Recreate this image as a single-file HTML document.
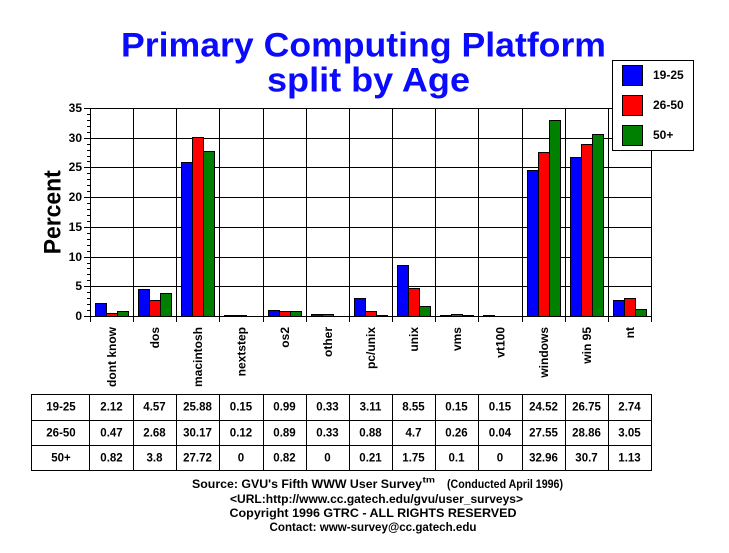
<!DOCTYPE html>
<html>
<head>
<meta charset="utf-8">
<style>
html,body{margin:0;padding:0;background:#fff;}
svg{display:block;}
text{font-family:"Liberation Sans",Arial,sans-serif;font-weight:bold;fill:#000;}
.b{fill:#0000ff;stroke:#000;stroke-width:1;}
.r{fill:#ff0000;stroke:#000;stroke-width:1;}
.g{fill:#008000;stroke:#000;stroke-width:1;}
.ln{stroke:#000;stroke-width:1;fill:none;}
.tk{font-size:12px;text-anchor:end;}
.xl{font-size:12px;text-anchor:end;}
.tc{font-size:11.5px;text-anchor:middle;}
.ft{font-size:11.5px;}
</style>
</head>
<body>
<svg width="729" height="553" viewBox="0 0 729 553" xmlns="http://www.w3.org/2000/svg">
<rect x="0" y="0" width="729" height="553" fill="#fff"/>

<!-- Title -->
<text x="121" y="56.7" font-size="34" textLength="485" lengthAdjust="spacingAndGlyphs" style="fill:#0a0aff">Primary Computing Platform</text>
<text x="267" y="91.5" font-size="34" textLength="203" lengthAdjust="spacingAndGlyphs" style="fill:#0a0aff">split by Age</text>

<!-- Y axis title -->
<text transform="translate(60.7,212.3) rotate(-90)" font-size="24" text-anchor="middle" textLength="84" lengthAdjust="spacingAndGlyphs">Percent</text>

<!-- gridlines -->
<g class="ln" shape-rendering="crispEdges">
<path d="M90 108.5H651M90 138.5H651M90 167.5H651M90 197.5H651M90 227.5H651M90 257.5H651M90 286.5H651"/>
<path d="M133.5 108V322M176.5 108V322M219.5 108V322M263.5 108V322M306.5 108V322M349.5 108V322M392.5 108V322M435.5 108V322M478.5 108V322M522.5 108V322M565.5 108V322M608.5 108V322M651.5 108V322"/>
</g>

<!-- bars -->
<g shape-rendering="crispEdges">
<rect class="b" x="95.5" y="303.5" width="11" height="13"/>
<rect class="r" x="106.5" y="313.5" width="11" height="3"/>
<rect class="g" x="117.5" y="311.5" width="11" height="5"/>

<rect class="b" x="138.5" y="289.5" width="11" height="27"/>
<rect class="r" x="149.5" y="300.5" width="11" height="16"/>
<rect class="g" x="160.5" y="293.5" width="11" height="23"/>

<rect class="b" x="181.5" y="162.5" width="11" height="154"/>
<rect class="r" x="192.5" y="137.5" width="11" height="179"/>
<rect class="g" x="203.5" y="151.5" width="11" height="165"/>

<rect class="b" x="224.5" y="315.5" width="11" height="1"/>
<rect class="r" x="235.5" y="315.5" width="11" height="1"/>

<rect class="b" x="268.5" y="310.5" width="11" height="6"/>
<rect class="r" x="279.5" y="311.5" width="11" height="5"/>
<rect class="g" x="290.5" y="311.5" width="11" height="5"/>

<rect class="b" x="311.5" y="314.5" width="11" height="2"/>
<rect class="r" x="322.5" y="314.5" width="11" height="2"/>

<rect class="b" x="354.5" y="298.5" width="11" height="18"/>
<rect class="r" x="365.5" y="311.5" width="11" height="5"/>
<rect class="g" x="376.5" y="315.5" width="11" height="1"/>

<rect class="b" x="397.5" y="265.5" width="11" height="51"/>
<rect class="r" x="408.5" y="288.5" width="11" height="28"/>
<rect class="g" x="419.5" y="306.5" width="11" height="10"/>

<rect class="b" x="440.5" y="315.5" width="11" height="1"/>
<rect class="r" x="451.5" y="314.5" width="11" height="2"/>
<rect class="g" x="462.5" y="315.5" width="11" height="1"/>

<rect class="b" x="483.5" y="315.5" width="11" height="1"/>

<rect class="b" x="527.5" y="170.5" width="11" height="146"/>
<rect class="r" x="538.5" y="152.5" width="11" height="164"/>
<rect class="g" x="549.5" y="120.5" width="11" height="196"/>

<rect class="b" x="570.5" y="157.5" width="11" height="159"/>
<rect class="r" x="581.5" y="144.5" width="11" height="172"/>
<rect class="g" x="592.5" y="134.5" width="11" height="182"/>

<rect class="b" x="613.5" y="300.5" width="11" height="16"/>
<rect class="r" x="624.5" y="298.5" width="11" height="18"/>
<rect class="g" x="635.5" y="309.5" width="11" height="7"/>
</g>

<!-- axes and ticks -->
<g class="ln" shape-rendering="crispEdges">
<path d="M90 316.5H652"/>
<path d="M90.5 108V322"/>
<path d="M84 108.5H90M84 138.5H90M84 167.5H90M84 197.5H90M84 227.5H90M84 257.5H90M84 286.5H90M84 316.5H90"/>
<path d="M87 310.5H90M87 304.5H90M87 298.5H90M87 292.5H90M87 280.5H90M87 274.5H90M87 268.5H90M87 263.5H90M87 251.5H90M87 245.5H90M87 239.5H90M87 233.5H90M87 221.5H90M87 215.5H90M87 209.5H90M87 203.5H90M87 191.5H90M87 185.5H90M87 179.5H90M87 173.5H90M87 161.5H90M87 156.5H90M87 150.5H90M87 144.5H90M87 132.5H90M87 126.5H90M87 120.5H90M87 114.5H90"/>
</g>

<!-- y tick labels -->
<text class="tk" x="82" y="112">35</text>
<text class="tk" x="82" y="142">30</text>
<text class="tk" x="82" y="171">25</text>
<text class="tk" x="82" y="201">20</text>
<text class="tk" x="82" y="231">15</text>
<text class="tk" x="82" y="261">10</text>
<text class="tk" x="82" y="290">5</text>
<text class="tk" x="82" y="320">0</text>

<!-- x labels -->
<text class="xl" transform="translate(115.8,327) rotate(-90)">dont know</text>
<text class="xl" transform="translate(158.8,327) rotate(-90)">dos</text>
<text class="xl" transform="translate(201.8,327) rotate(-90)">macintosh</text>
<text class="xl" transform="translate(245.3,327) rotate(-90)">nextstep</text>
<text class="xl" transform="translate(288.8,327) rotate(-90)">os2</text>
<text class="xl" transform="translate(331.8,327) rotate(-90)">other</text>
<text class="xl" transform="translate(374.8,327) rotate(-90)">pc/unix</text>
<text class="xl" transform="translate(417.8,327) rotate(-90)">unix</text>
<text class="xl" transform="translate(460.8,327) rotate(-90)">vms</text>
<text class="xl" transform="translate(504.3,327) rotate(-90)">vt100</text>
<text class="xl" transform="translate(547.8,327) rotate(-90)">windows</text>
<text class="xl" transform="translate(590.8,327) rotate(-90)">win 95</text>
<text class="xl" transform="translate(633.8,327) rotate(-90)">nt</text>

<!-- legend -->
<g shape-rendering="crispEdges">
<rect x="612.5" y="60.5" width="81" height="90" fill="#fff" stroke="#000" stroke-width="1"/>
<rect class="b" x="622.5" y="65.5" width="20" height="20"/>
<rect class="r" x="622.5" y="95.5" width="20" height="20"/>
<rect class="g" x="622.5" y="125.5" width="20" height="20"/>
</g>
<text x="653" y="79" font-size="12">19-25</text>
<text x="653" y="109" font-size="12">26-50</text>
<text x="653" y="139" font-size="12">50+</text>

<!-- table -->
<g class="ln" shape-rendering="crispEdges">
<rect x="31.5" y="394.5" width="620" height="76"/>
<path d="M31 420.5H651M31 445.5H651"/>
<path d="M89.5 394V471M133.5 394V471M176.5 394V471M219.5 394V471M263.5 394V471M306.5 394V471M349.5 394V471M392.5 394V471M435.5 394V471M478.5 394V471M522.5 394V471M565.5 394V471M608.5 394V471"/>
</g>
<g class="tc">
<text x="61" y="410.5">19-25</text>
<text x="111.5" y="410.5">2.12</text>
<text x="154.5" y="410.5">4.57</text>
<text x="197.5" y="410.5">25.88</text>
<text x="241" y="410.5">0.15</text>
<text x="284.5" y="410.5">0.99</text>
<text x="327.5" y="410.5">0.33</text>
<text x="370.5" y="410.5">3.11</text>
<text x="413.5" y="410.5">8.55</text>
<text x="456.5" y="410.5">0.15</text>
<text x="500" y="410.5">0.15</text>
<text x="543.5" y="410.5">24.52</text>
<text x="586.5" y="410.5">26.75</text>
<text x="629.5" y="410.5">2.74</text>

<text x="61" y="436.5">26-50</text>
<text x="111.5" y="436.5">0.47</text>
<text x="154.5" y="436.5">2.68</text>
<text x="197.5" y="436.5">30.17</text>
<text x="241" y="436.5">0.12</text>
<text x="284.5" y="436.5">0.89</text>
<text x="327.5" y="436.5">0.33</text>
<text x="370.5" y="436.5">0.88</text>
<text x="413.5" y="436.5">4.7</text>
<text x="456.5" y="436.5">0.26</text>
<text x="500" y="436.5">0.04</text>
<text x="543.5" y="436.5">27.55</text>
<text x="586.5" y="436.5">28.86</text>
<text x="629.5" y="436.5">3.05</text>

<text x="61" y="461.5">50+</text>
<text x="111.5" y="461.5">0.82</text>
<text x="154.5" y="461.5">3.8</text>
<text x="197.5" y="461.5">27.72</text>
<text x="241" y="461.5">0</text>
<text x="284.5" y="461.5">0.82</text>
<text x="327.5" y="461.5">0</text>
<text x="370.5" y="461.5">0.21</text>
<text x="413.5" y="461.5">1.75</text>
<text x="456.5" y="461.5">0.1</text>
<text x="500" y="461.5">0</text>
<text x="543.5" y="461.5">32.96</text>
<text x="586.5" y="461.5">30.7</text>
<text x="629.5" y="461.5">1.13</text>
</g>

<!-- footer -->
<text class="ft" x="192" y="488" textLength="230" lengthAdjust="spacingAndGlyphs">Source: GVU's Fifth WWW User Survey</text>
<text x="422.5" y="482.5" font-size="8" textLength="12.5" lengthAdjust="spacingAndGlyphs">tm</text>
<text class="ft" x="447" y="488" textLength="116" lengthAdjust="spacingAndGlyphs">(Conducted April 1996)</text>
<text class="ft" x="230" y="503" textLength="293" lengthAdjust="spacingAndGlyphs">&lt;URL:http://www.cc.gatech.edu/gvu/user_surveys&gt;</text>
<text class="ft" x="229.5" y="517" textLength="287" lengthAdjust="spacingAndGlyphs">Copyright 1996 GTRC -  ALL RIGHTS RESERVED</text>
<text class="ft" x="269.5" y="531" textLength="207" lengthAdjust="spacingAndGlyphs">Contact: www-survey@cc.gatech.edu</text>
</svg>
</body>
</html>
